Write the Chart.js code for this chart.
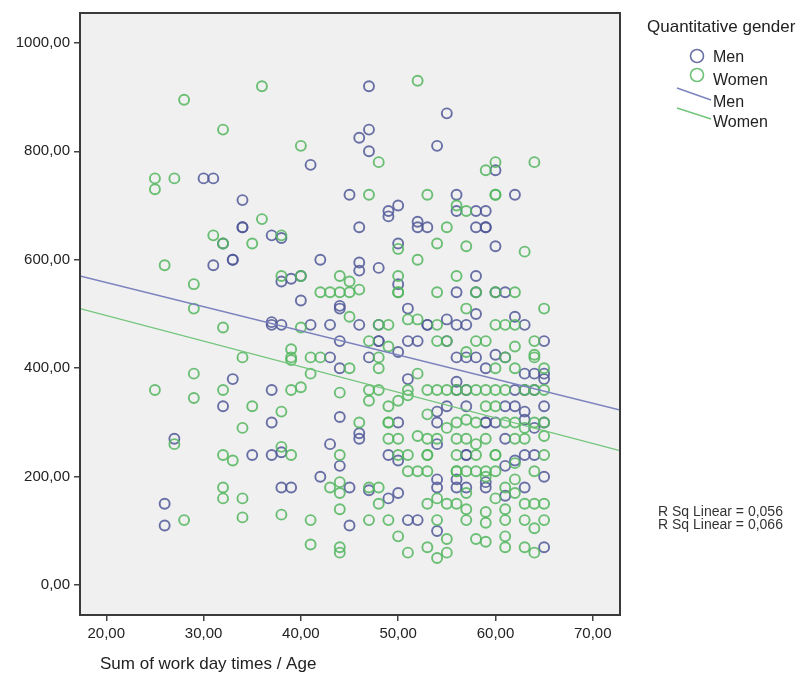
<!DOCTYPE html>
<html>
<head>
<meta charset="utf-8">
<script src="https://cdn.jsdelivr.net/npm/chart.js@4"></script>
<style>
  body { margin: 0; background: #fff; }
  #wrap { width: 807px; height: 674px; }
</style>
</head>
<body>
<div id="wrap"><canvas id="scatter" width="807" height="674"></canvas></div>
<script>
// Data: [age, sum of work day times]
const men = [
  [26,150],[26,110],[27,270],[30,750],[31,750],[31,590],[32,630],[32,330],
  [33,600],[33,600],[33,380],[34,710],[34,660],[34,660],[35,240],
  [37,645],[37,485],[37,480],[37,360],[37,300],[37,240],
  [38,640],[38,560],[38,480],[38,245],[38,180],[39,565],[39,180],
  [40,570],[40,525],[41,775],[41,480],[42,600],[42,200],[43,480],[43,420],[43,260],
  [44,515],[44,510],[44,450],[44,400],[44,310],[44,220],[45,720],[45,180],[45,110],
  [46,825],[46,660],[46,595],[46,580],[46,480],[46,280],[46,270],
  [47,920],[47,840],[47,800],[47,420],[47,175],[48,585],[48,480],[48,450],[48,450],
  [49,690],[49,680],[49,240],[49,160],
  [50,700],[50,630],[50,555],[50,430],[50,300],[50,230],[50,170],
  [51,510],[51,450],[51,380],[51,120],[52,670],[52,660],[52,450],[52,120],
  [53,660],[53,480],[53,480],
  [54,810],[54,320],[54,300],[54,260],[54,195],[54,180],[54,100],
  [55,870],[55,490],[55,450],[55,330],
  [56,720],[56,690],[56,540],[56,480],[56,420],[56,375],[56,360],[56,195],[56,180],
  [57,480],[57,420],[57,360],[57,330],[57,240],[57,240],[57,180],
  [58,690],[58,660],[58,570],[58,540],[58,500],[58,420],
  [59,690],[59,660],[59,660],[59,400],[59,300],[59,300],[59,190],[59,180],
  [60,765],[60,625],[60,540],[60,425],[60,300],
  [61,540],[61,420],[61,330],[61,270],[61,220],[61,165],
  [62,720],[62,495],[62,360],[62,330],[62,230],
  [63,480],[63,390],[63,360],[63,320],[63,305],[63,240],[63,180],
  [64,390],[64,360],[64,290],[64,240],
  [65,450],[65,390],[65,380],[65,330],[65,300],[65,200],[65,70]
];
const women = [
  [25,750],[25,730],[25,360],[26,590],[27,750],[27,260],[28,895],[28,120],
  [29,555],[29,510],[29,390],[29,345],[31,645],
  [32,840],[32,630],[32,475],[32,360],[32,240],[32,180],[32,160],[33,230],
  [34,420],[34,290],[34,160],[34,125],[35,630],[35,330],[36,920],[36,675],
  [38,645],[38,570],[38,320],[38,255],[38,130],
  [39,435],[39,420],[39,415],[39,360],[39,240],
  [40,810],[40,570],[40,475],[40,365],[41,420],[41,390],[41,120],[41,75],
  [42,540],[42,420],[43,540],[43,180],
  [44,570],[44,540],[44,355],[44,240],[44,190],[44,170],[44,140],[44,70],[44,60],
  [45,560],[45,540],[45,495],[45,400],[46,545],[46,300],
  [47,720],[47,450],[47,360],[47,340],[47,180],[47,120],
  [48,780],[48,480],[48,420],[48,400],[48,360],[48,180],[48,150],
  [49,480],[49,440],[49,330],[49,300],[49,300],[49,270],[49,120],
  [50,620],[50,570],[50,540],[50,540],[50,340],[50,270],[50,240],[50,90],
  [51,490],[51,360],[51,350],[51,240],[51,210],[51,60],
  [52,930],[52,600],[52,490],[52,390],[52,275],[52,210],
  [53,720],[53,360],[53,315],[53,270],[53,240],[53,240],[53,210],[53,150],[53,70],
  [54,630],[54,540],[54,480],[54,450],[54,360],[54,270],[54,160],[54,120],[54,50],
  [55,660],[55,450],[55,360],[55,290],[55,150],[55,85],[55,60],
  [56,700],[56,570],[56,360],[56,300],[56,270],[56,240],[56,210],[56,210],[56,150],
  [57,690],[57,625],[57,510],[57,430],[57,360],[57,305],[57,270],[57,210],[57,170],[57,140],[57,120],
  [58,540],[58,450],[58,360],[58,300],[58,260],[58,240],[58,210],[58,85],
  [59,765],[59,450],[59,360],[59,330],[59,270],[59,210],[59,200],[59,135],[59,115],[59,80],
  [60,780],[60,720],[60,720],[60,540],[60,480],[60,400],[60,360],[60,330],[60,240],[60,240],[60,210],[60,160],
  [61,480],[61,420],[61,360],[61,300],[61,180],[61,140],[61,120],[61,90],[61,70],
  [62,540],[62,480],[62,440],[62,400],[62,300],[62,270],[62,225],[62,195],[62,170],
  [63,615],[63,360],[63,290],[63,270],[63,150],[63,120],[63,70],
  [64,780],[64,450],[64,425],[64,420],[64,360],[64,300],[64,210],[64,150],[64,105],[64,60],
  [65,510],[65,400],[65,360],[65,300],[65,275],[65,240],[65,150],[65,120]
];

// Linear fit lines (end points at the plot edges)
const fitX = [17.3, 72.8];
const menFit = [570, 323];
const womenFit = [510, 248];

const xTicks = [20, 30, 40, 50, 60, 70];
const yTicks = [0, 200, 400, 600, 800, 1000];
const rSquared = ["0,056", "0,066"];

const menColor = "rgba(80, 88, 150, 0.85)";
const womenColor = "rgba(82, 182, 94, 0.85)";
const menLine = "#7c82bd";
const womenLine = "#72c57a";

const fmt = v => v.toFixed(2).replace(".", ",");

// Background, frame and side texts
const decor = {
  id: "decor",
  beforeDatasetsDraw(chart) {
    const { ctx, chartArea: a } = chart;
    ctx.save();
    ctx.fillStyle = "#f0f0f0";
    ctx.fillRect(a.left, a.top, a.right - a.left, a.bottom - a.top);
    ctx.restore();
  },
  afterDraw(chart) {
    const { ctx, chartArea: a } = chart;
    ctx.save();
    ctx.strokeStyle = "#3a3a3a";
    ctx.lineWidth = 2;
    ctx.strokeRect(a.left, a.top, a.right - a.left, a.bottom - a.top);

    ctx.fillStyle = "#222";
    ctx.textBaseline = "middle";
    ctx.textAlign = "left";
    ctx.font = "17px 'Liberation Sans', Arial, sans-serif";
    ctx.fillText("Sum of work day times / Age", 100, 664);

    ctx.fillText("Quantitative gender", 647, 27);
    ctx.font = "16px 'Liberation Sans', Arial, sans-serif";
    ctx.lineWidth = 1.6;
    ctx.strokeStyle = menColor;
    ctx.beginPath(); ctx.arc(697, 56, 6.5, 0, Math.PI * 2); ctx.stroke();
    ctx.fillText("Men", 713, 58);
    ctx.strokeStyle = womenColor;
    ctx.beginPath(); ctx.arc(697, 75, 6.5, 0, Math.PI * 2); ctx.stroke();
    ctx.fillText("Women", 713, 81);
    ctx.lineWidth = 1.4;
    ctx.strokeStyle = menLine;
    ctx.beginPath(); ctx.moveTo(677, 88); ctx.lineTo(711, 100); ctx.stroke();
    ctx.fillText("Men", 713, 103);
    ctx.strokeStyle = womenLine;
    ctx.beginPath(); ctx.moveTo(677, 108); ctx.lineTo(711, 119); ctx.stroke();
    ctx.fillText("Women", 713, 123);

    ctx.font = "14px 'Liberation Sans', Arial, sans-serif";
    ctx.fillStyle = "#333";
    ctx.fillText("R Sq Linear = " + rSquared[0], 658, 512);
    ctx.fillText("R Sq Linear = " + rSquared[1], 658, 525);
    ctx.restore();
  }
};

const pts = list => list.map(p => ({ x: p[0], y: p[1] }));
const fitPts = ys => fitX.map((x, i) => ({ x, y: ys[i] }));

new Chart(document.getElementById("scatter"), {
  type: "scatter",
  data: {
    datasets: [
      { type: "line", label: "Men fit", data: fitPts(menFit), borderColor: menLine, borderWidth: 1.4, pointRadius: 0, fill: false },
      { type: "line", label: "Women fit", data: fitPts(womenFit), borderColor: womenLine, borderWidth: 1.4, pointRadius: 0, fill: false },
      { label: "Women", data: pts(women), borderColor: womenColor, backgroundColor: "transparent", borderWidth: 1.9, pointRadius: 5 },
      { label: "Men", data: pts(men), borderColor: menColor, backgroundColor: "transparent", borderWidth: 1.9, pointRadius: 5 }
    ]
  },
  options: {
    responsive: false,
    animation: false,
    layout: { padding: { top: 9, right: 187, left: 0, bottom: 0 } },
    plugins: { legend: { display: false }, tooltip: { enabled: false } },
    scales: {
      x: {
        type: "linear",
        min: 17.3,
        max: 72.8,
        afterBuildTicks: s => { s.ticks = xTicks.map(v => ({ value: v })); },
        afterFit: s => { s.height = 59; },
        grid: { drawOnChartArea: false, tickLength: 6, color: "#444", lineWidth: 1.5 },
        border: { display: false },
        ticks: { color: "#222", padding: 4, font: { size: 15, family: "'Liberation Sans', Arial" }, callback: v => fmt(v) }
      },
      y: {
        min: -55,
        max: 1055,
        afterBuildTicks: s => { s.ticks = yTicks.map(v => ({ value: v })); },
        afterFit: s => { s.width = 80; },
        grid: { drawOnChartArea: false, tickLength: 6, color: "#444", lineWidth: 1.5 },
        border: { display: false },
        ticks: { color: "#222", padding: 4, font: { size: 15, family: "'Liberation Sans', Arial" }, callback: v => fmt(v) }
      }
    }
  },
  plugins: [decor]
});
</script>
</body>
</html>
